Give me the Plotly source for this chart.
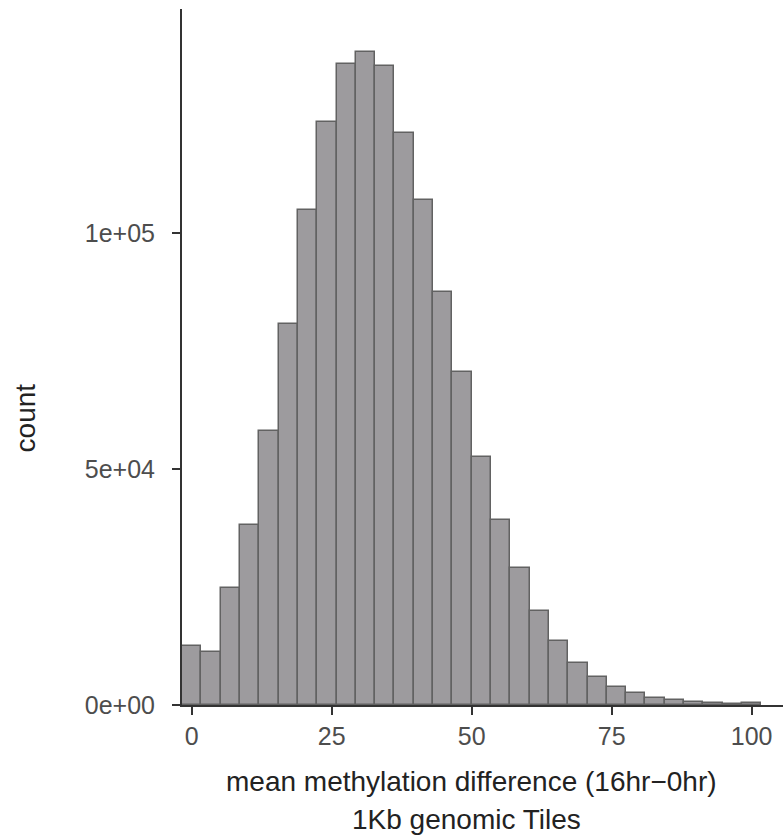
import plotly.graph_objects as go

# Histogram of 1Kb genomic tiles: 30 bins spanning 0..100
bin_first_center = 0.0
bin_width = 100 / 29
counts = [12500, 11300, 24800, 38200, 58100, 80800, 104900, 123600, 135900, 138400,
          135600, 121400, 107100, 87600, 70700, 52700, 39200, 29000, 20000, 13600,
          8900, 6000, 3900, 2500, 1500, 1000, 650, 450, 250, 400]
bin_centers = [bin_first_center + i * bin_width for i in range(len(counts))]

x_ticks = [0, 25, 50, 75, 100]
x_ticklabels = ["0", "25", "50", "75", "100"]
y_ticks = [0, 50000, 100000]
y_ticklabels = ["0e+00", "5e+04", "1e+05"]

x_title = "mean methylation difference (16hr\u22120hr)"
x_subtitle = "1Kb genomic Tiles"
y_title = "count"

FONT = "Liberation Sans, Arial, Helvetica, sans-serif"

fig = go.Figure()
fig.add_trace(go.Bar(
    x=bin_centers, y=counts, width=bin_width,
    marker=dict(color="#9d9b9e", line=dict(color="#626262", width=1.5)),
    hoverinfo="x+y",
))

axis_common = dict(
    showline=True, linecolor="#333333", linewidth=2,
    ticks="outside", ticklen=8, tickwidth=2, tickcolor="#333333",
    showgrid=False, zeroline=False,
    tickfont=dict(family=FONT, size=25, color="#4d4d4d"),
)

fig.update_layout(
    width=783, height=839,
    margin=dict(l=182, r=0, t=9, b=134),
    paper_bgcolor="white", plot_bgcolor="white",
    showlegend=False, bargap=0,
    xaxis=dict(range=[-1.73, 105.6], tickvals=x_ticks, ticktext=x_ticklabels, **axis_common),
    yaxis=dict(range=[0, 147600], tickvals=y_ticks, ticktext=y_ticklabels,
               ticklabelstandoff=12, **axis_common),
    annotations=[
        dict(text=x_title, xref="paper", yref="paper", x=0.481, y=-0.1106,
             xanchor="center", yanchor="middle", showarrow=False,
             font=dict(family=FONT, size=28, color="#222222")),
        dict(text=x_subtitle, xref="paper", yref="paper", x=0.474, y=-0.1638,
             xanchor="center", yanchor="middle", showarrow=False,
             font=dict(family=FONT, size=28, color="#222222")),
        dict(text=y_title, xref="paper", yref="paper", x=-0.261, y=0.412,
             xanchor="center", yanchor="middle", showarrow=False, textangle=-90,
             font=dict(family=FONT, size=28, color="#222222")),
    ],
)

fig.write_html("out.html")
